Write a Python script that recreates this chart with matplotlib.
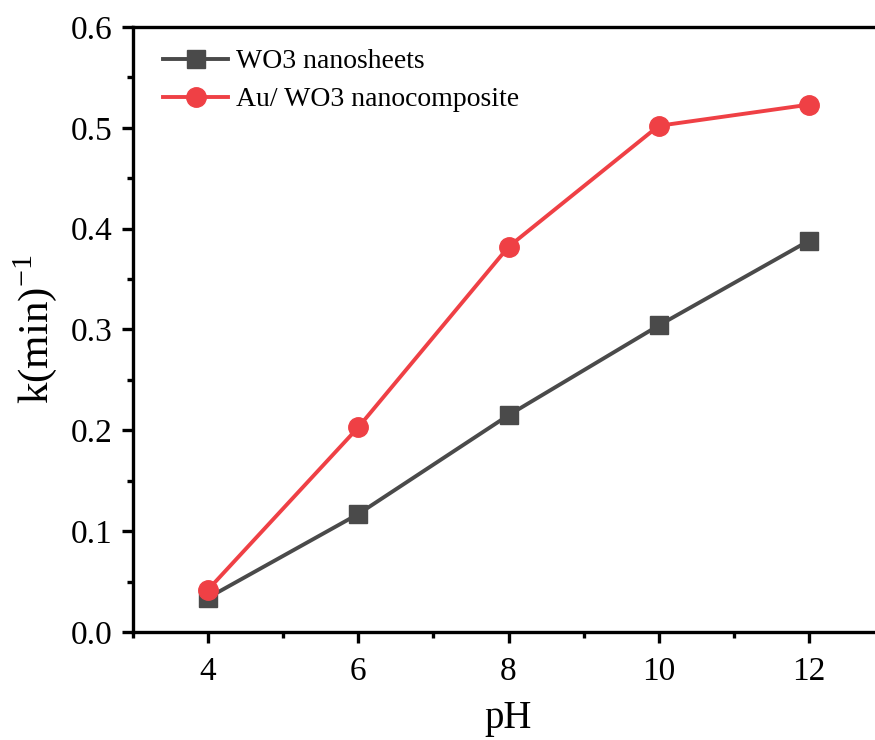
import matplotlib
matplotlib.use("Agg")
import matplotlib.pyplot as plt
from matplotlib.ticker import MultipleLocator

plt.rcParams['font.family'] = ['Liberation Serif', 'DejaVu Serif']
plt.rcParams['mathtext.fontset'] = 'custom'
plt.rcParams['mathtext.rm'] = 'Liberation Serif'

ph = [4, 6, 8, 10, 12]
wo3 = [0.034, 0.117, 0.215, 0.304, 0.388]
au_wo3 = [0.042, 0.203, 0.382, 0.502, 0.523]
labels = ["WO3 nanosheets", "Au/ WO3 nanocomposite"]

fig = plt.figure(figsize=(8.75, 7.4), dpi=100)
ax = fig.add_axes([133/875, 1 - 632/740, (884-133)/875, (632-27)/740])

ax.plot(ph, wo3, color='#4a4a4a', lw=2.8, marker='s', ms=13, label=labels[0])
ax.plot(ph, au_wo3, color='#ef4045', lw=2.8, marker='o', ms=14, label=labels[1])

ax.set_xlim(3, 13)
ax.set_ylim(0, 0.6)
ax.xaxis.set_major_locator(MultipleLocator(2))
ax.xaxis.set_minor_locator(MultipleLocator(1))
ax.yaxis.set_major_locator(MultipleLocator(0.1))
ax.yaxis.set_minor_locator(MultipleLocator(0.05))
ax.yaxis.set_major_formatter(plt.FuncFormatter(lambda v, p: f"{v:.1f}"))
for s in ['left', 'bottom', 'top']:
    ax.spines[s].set_linewidth(2.4)
ax.spines['right'].set_visible(False)
ax.tick_params(which='major', direction='out', length=8, width=2.4, labelsize=24)
ax.tick_params(which='minor', direction='out', length=4, width=2.4)
ax.tick_params(axis='x', which='major', pad=10)
ax.tick_params(axis='y', which='major', pad=7)
ax.tick_params(top=False, right=False)

ax.set_xlabel("pH", fontsize=28, labelpad=9)
ax.set_ylabel(r"k(min)$^{\mathregular{-1}}$", fontsize=31, labelpad=8)

leg = ax.legend(loc='upper left', frameon=False, fontsize=20, handlelength=2.35,
                handletextpad=0.3, bbox_to_anchor=(0.025, 0.982), borderaxespad=0.0,
                labelspacing=0.45)

fig.savefig("out.png", dpi=100)
